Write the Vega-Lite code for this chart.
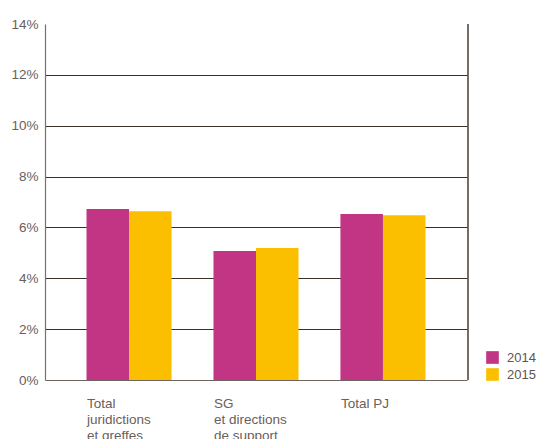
{
  "$schema": "https://vega.github.io/schema/vega-lite/v6.json",
  "width": 422,
  "height": 356,
  "autosize": {"type": "none"},
  "padding": {"left": 45, "top": 24, "right": 69, "bottom": 59},
  "background": "white",
  "config": {
    "view": {"stroke": null},
    "font": "Liberation Sans",
    "axis": {"labelFont": "Liberation Sans", "labelColor": "#6a605b", "labelFontSize": 13.5}
  },
  "data": {
    "values": [
      {"cat": "Total|juridictions|et greffes", "year": "2014", "value": 0.0672},
      {"cat": "Total|juridictions|et greffes", "year": "2015", "value": 0.0664},
      {"cat": "SG|et directions|de support", "year": "2014", "value": 0.0507},
      {"cat": "SG|et directions|de support", "year": "2015", "value": 0.0519},
      {"cat": "Total PJ", "year": "2014", "value": 0.0653},
      {"cat": "Total PJ", "year": "2015", "value": 0.0648}
    ]
  },
  "layer": [
    {
      "mark": {"type": "bar"},
      "encoding": {
        "x": {
          "field": "cat", "type": "nominal", "sort": null,
          "scale": {"paddingInner": 0.33, "paddingOuter": 0.327},
          "axis": {
            "title": null, "labelAngle": 0, "labelAlign": "left", "labelOffset": -42,
            "labelBaseline": "top", "labelPadding": 16, "labelLineHeight": 16,
            "labelExpr": "split(datum.label, '|')", "ticks": false,
            "domainColor": "#6f6560", "domainWidth": 1.2, "labelLimit": 0
          }
        },
        "xOffset": {"field": "year", "type": "nominal", "scale": {"paddingInner": 0}},
        "y": {
          "field": "value", "type": "quantitative",
          "scale": {"domain": [0, 0.14], "nice": false},
          "axis": {
            "title": null, "format": ".0%", "values": [0, 0.02, 0.04, 0.06, 0.08, 0.1, 0.12, 0.14],
            "ticks": false, "labelPadding": 7, "domainColor": "#7a716c", "domainWidth": 1.2,
            "grid": true, "gridWidth": 1.2,
            "gridColor": {"condition": {"test": "datum.value >= 0.14 || datum.value == 0", "value": "transparent"}, "value": "#3a2f29"}
          }
        },
        "color": {
          "field": "year", "type": "nominal",
          "scale": {"domain": ["2014", "2015"], "range": ["#c13584", "#fbbf00"]},
          "legend": {
            "title": null, "orient": "none", "legendX": 441, "legendY": 327,
            "symbolType": "square", "symbolSize": 160, "symbolStrokeWidth": 0,
            "labelFontSize": 13, "labelColor": "#5e5550", "labelFont": "Liberation Sans",
            "rowPadding": 3, "labelOffset": 8
          }
        }
      }
    },
    {
      "mark": {"type": "rule", "color": "#4a3c34", "strokeWidth": 1.5},
      "data": {"values": [{"v": 1}]},
      "encoding": {"x": {"value": 423}, "y": {"value": 0}, "y2": {"value": 356}}
    }
  ]
}
